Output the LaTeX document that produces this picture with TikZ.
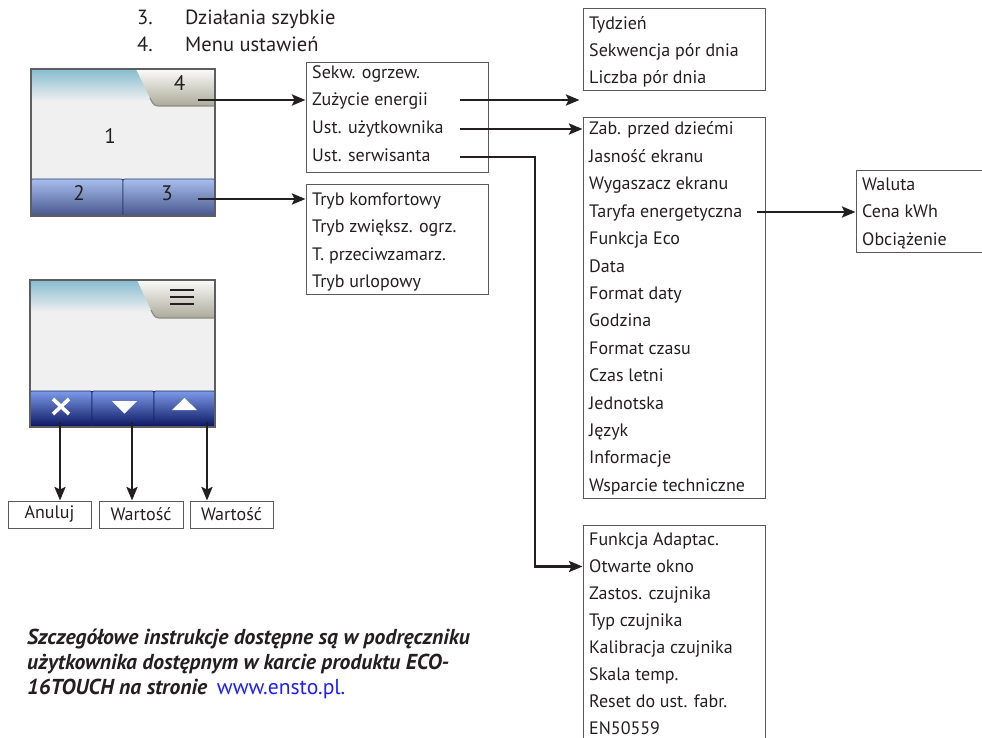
\documentclass[tikz,border=0pt]{standalone}
\usepackage{fontspec}
\setmainfont{PT Sans}
\usetikzlibrary{arrows.meta,fit}

\definecolor{ink}{HTML}{231F20}
\definecolor{boxline}{HTML}{5A5A5A}
\definecolor{scrframe}{HTML}{5E5E5E}
\definecolor{scrbg}{HTML}{F0F0F0}
\definecolor{sky}{HTML}{86BBCF}
\definecolor{tabtop}{HTML}{FBFBFA}
\definecolor{tabbot}{HTML}{ABAA99}
\definecolor{tabedge}{HTML}{8E8D80}
\definecolor{btnAtop}{HTML}{A8BFEE}
\definecolor{btnAbot}{HTML}{47568C}
\definecolor{btnAline}{HTML}{2C3A6C}
\definecolor{btnBtop}{HTML}{7C9AE8}
\definecolor{btnBbot}{HTML}{0A1560}
\definecolor{btnBline}{HTML}{1A2668}
\definecolor{urlblue}{HTML}{1E1EFF}

\begin{document}
\begin{tikzpicture}[x=1pt,y=-1pt,
  menubox/.style={draw=boxline,line width=1pt,inner sep=0pt},
  item/.style={anchor=base west,inner sep=0pt,text=ink,font=\fontsize{18}{21}\selectfont},
  toptext/.style={anchor=base west,inner sep=0pt,text=ink,font=\fontsize{20.5}{24}\selectfont},
  digit/.style={inner sep=0pt,text=ink,font=\fontsize{21}{24}\selectfont},
  note/.style={anchor=base west,inner sep=0pt,text=ink,font=\fontsize{21.6}{25}\selectfont\bfseries\itshape},
  link/.style={draw=ink,line width=2.4pt,-{Stealth[length=13.5pt,width=11pt,inset=2.5pt]}},
  smallbox/.style={draw=boxline,line width=1pt,minimum height=27,inner sep=0pt,text=ink,font=\fontsize{18}{21}\selectfont},
]
\useasboundingbox (0,0) rectangle (982,738);

% ---------- legend lines ----------
\node[toptext] (n3) at (137,25) {3.};
\node[toptext] (t3) at (185,25) {Działania szybkie};
\node[toptext] (n4) at (137,52) {4.};
\node[toptext] (t4) at (185,52) {Menu ustawień};

% ---------- main screen ----------
\fill[scrbg] (31,69) rectangle (215,216);
\shade[top color=sky,bottom color=scrbg] (31,69) rectangle (215,101);
\shade[top color=tabtop,bottom color=tabbot] (136,69) -- (150,98) .. controls (154,106) .. (162,106) -- (215,106) -- (215,69) -- cycle;
\draw[tabedge,line width=1.2pt] (150,98) .. controls (154,106) .. (162,106) -- (215,106);
\shadedraw[top color=btnAtop,bottom color=btnAbot,draw=btnAline,line width=0.8pt]
  (31,216) -- (31,183) .. controls (31,179) .. (35,179) -- (119,179) .. controls (123,179) .. (123,183) -- (123,216) -- cycle;
\shadedraw[top color=btnAtop,bottom color=btnAbot,draw=btnAline,line width=0.8pt]
  (123,216) -- (123,183) .. controls (123,179) .. (127,179) -- (211,179) .. controls (215,179) .. (215,183) -- (215,216) -- cycle;
\draw[scrframe,line width=1.2pt] (31,69) rectangle (215,216);
\node[digit] (k4) at (179.5,83) {4};
\node[digit] (k1) at (110,136) {1};
\node[digit] (k2) at (79,193) {2};
\node[digit] (k3) at (167,193) {3};
\coordinate (k4out) at (198,100);
\coordinate (k3out) at (198,199);

% ---------- edit screen ----------
\fill[scrbg] (30,280) rectangle (215,427);
\shade[top color=sky,bottom color=scrbg] (30,280) rectangle (215,312);
\shade[top color=tabtop,bottom color=tabbot] (137,280) -- (151,310) .. controls (155,318) .. (163,318) -- (215,318) -- (215,280) -- cycle;
\draw[tabedge,line width=1.2pt] (151,310) .. controls (155,318) .. (163,318) -- (215,318);
\foreach \yy in {290,297,304}
  \fill[ink] (170,\yy-1.4) rectangle (194,\yy+1.4);
\shadedraw[top color=btnBtop,bottom color=btnBbot,draw=btnBline,line width=0.8pt]
  (30,427) -- (30,395) .. controls (30,391) .. (34,391) -- (88,391) .. controls (92,391) .. (92,395) -- (92,427) -- cycle;
\shadedraw[top color=btnBtop,bottom color=btnBbot,draw=btnBline,line width=0.8pt]
  (92,427) -- (92,395) .. controls (92,391) .. (96,391) -- (150,391) .. controls (154,391) .. (154,395) -- (154,427) -- cycle;
\shadedraw[top color=btnBtop,bottom color=btnBbot,draw=btnBline,line width=0.8pt]
  (154,427) -- (154,395) .. controls (154,391) .. (158,391) -- (211,391) .. controls (215,391) .. (215,395) -- (215,427) -- cycle;
\draw[scrframe,line width=1.2pt] (30,280) rectangle (215,427);
\draw[white,line width=3.6pt] (53,399) -- (69,414) (53,414) -- (69,399);
\fill[white] (112,401) -- (137,401) -- (124.5,413.5) -- cycle;
\fill[white] (172,410) -- (197,410) -- (184.5,398) -- cycle;
\coordinate (bx) at (60,422);
\coordinate (bdown) at (132,422);
\coordinate (bup) at (207,422);

\node[smallbox,minimum width=83] (anuluj) at (49.5,514.5) {Anuluj};
\node[smallbox,minimum width=84] (wart1) at (141,514.5) {Wartość};
\node[smallbox,minimum width=83] (wart2) at (231.5,514.5) {Wartość};

\draw[link] (bx) -- (bx |- anuluj.north);
\draw[link] (bdown) -- (bdown |- wart1.north);
\draw[link] (bup) -- (bup |- wart2.north);

% ---------- settings menu ----------
\node[menubox,fit={(306,63) (488,173)}] (boxA) {};
\node[item] (a1) at (312,78.5) {Sekw. ogrzew.};
\node[item] (a2) at (312,106) {Zużycie energii};
\node[item] (a3) at (312,134) {Ust. użytkownika};
\node[item] (a4) at (312,162) {Ust. serwisanta};
\coordinate (a2out) at (460,100);
\coordinate (a3out) at (460,129);
\coordinate (a4out) at (460,157);

% ---------- quick actions ----------
\node[menubox,fit={(306,185) (488,294)}] (boxB) {};
\node[item] (b1) at (312,205) {Tryb komfortowy};
\node[item] (b2) at (312,232.5) {Tryb zwiększ. ogrz.};
\node[item] (b3) at (312,260) {T. przeciwzamarz.};
\node[item] (b4) at (312,287.5) {Tryb urlopowy};

% ---------- heating sequence ----------
\node[menubox,fit={(583,9) (765,91)}] (boxC) {};
\node[item] (c1) at (589,30) {Tydzień};
\node[item] (c2) at (589,57) {Sekwencja pór dnia};
\node[item] (c3) at (589,84) {Liczba pór dnia};

% ---------- user settings ----------
\node[menubox,fit={(583,118) (765,498)}] (boxD) {};
\foreach \txt [count=\i from 0] in {Zab. przed dziećmi,Jasność ekranu,Wygaszacz ekranu,Taryfa energetyczna,Funkcja Eco,Data,Format daty,Godzina,Format czasu,Czas letni,Jednotska,Język,Informacje,Wsparcie techniczne}
  \node[item] (d\i) at (589,135+27.4*\i) {\txt};
\coordinate (d3out) at (757,212);

% ---------- energy tariff ----------
\node[menubox,fit={(856,171) (1000,252)}] (boxE) {};
\node[item] (e1) at (862,190.5) {Waluta};
\node[item] (e2) at (862,218) {Cena kWh};
\node[item] (e3) at (862,245.5) {Obciążenie};

% ---------- service settings ----------
\node[menubox,fit={(583,525) (765,760)}] (boxF) {};
\foreach \txt [count=\i from 0] in {Funkcja Adaptac.,Otwarte okno,Zastos. czujnika,Typ czujnika,Kalibracja czujnika,Skala temp.,Reset do ust. fabr.,EN50559}
  \node[item] (f\i) at (589,545.5+27*\i) {\txt};
\coordinate (svc) at (535,566.5);

% ---------- connectors ----------
\draw[link] (k4out) -- (k4out -| boxA.west);
\draw[link] (k3out) -- (k3out -| boxB.west);
\draw[link,shorten >=3pt] (a2out) -- (a2out -| boxD.west);
\draw[link] (a3out) -- (a3out -| boxD.west);
\draw[link] (a4out) -| (svc) -- (svc -| boxF.west);
\draw[link] (d3out) -- (d3out -| boxE.west);

% ---------- note ----------
\node[note] (l1) at (27,644) {Szczegółowe instrukcje dostępne są w podręczniku};
\node[note] (l2) at (27,669) {użytkownika dostępnym w karcie produktu ECO-};
\node[note] (l3) at (27,694) {16TOUCH na stronie\hspace{0.45em}{\mdseries\upshape\color{urlblue}www.ensto.pl.}};
\end{tikzpicture}
\end{document}
